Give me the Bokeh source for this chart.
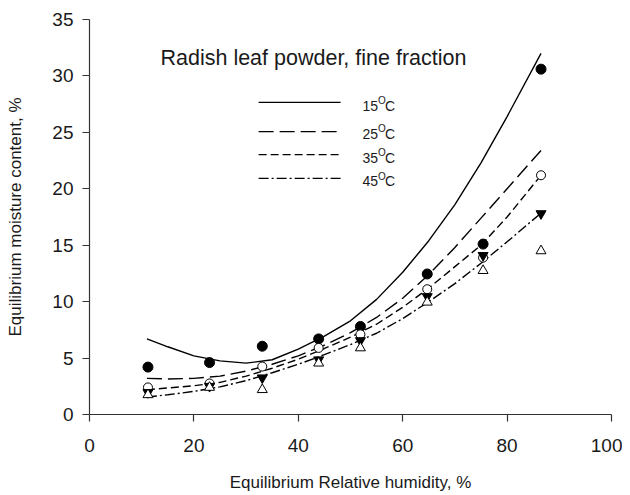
from bokeh.plotting import figure
from bokeh.embed import file_html
from bokeh.resources import INLINE
from bokeh.core.properties import value
from bokeh.models import FixedTicker

# ---- data ----
rh = [11.2, 23.0, 33.1, 43.9, 51.9, 64.7, 75.4, 86.5]
emc_15 = [4.2, 4.6, 6.05, 6.7, 7.8, 12.45, 15.1, 30.6]
emc_25 = [2.4, 2.75, 4.25, 5.9, 7.1, 11.1, 13.9, 21.2]
emc_35 = [1.95, 2.5, 3.25, 4.85, 6.55, 10.45, 14.1, 17.8]
emc_45 = [1.75, 2.4, 2.2, 4.55, 5.9, 9.95, 12.75, 14.5]

curve_rh = [11, 15, 20, 25, 30, 35, 40, 45, 50, 55, 60, 65, 70, 75, 80, 86.5]
fit_15 = [6.7, 6.0, 5.2, 4.75, 4.55, 4.85, 5.8, 6.95, 8.3, 10.2, 12.6, 15.4, 18.6, 22.3, 26.4, 32.0]
fit_25 = [3.2, 3.15, 3.2, 3.4, 3.85, 4.45, 5.2, 6.15, 7.25, 8.6, 10.3, 12.4, 14.8, 17.4, 20.0, 23.4]
fit_35 = [2.2, 2.35, 2.55, 2.85, 3.4, 4.1, 4.9, 5.85, 6.85, 8.0, 9.5, 11.2, 13.1, 15.0, 17.5, 21.2]
fit_45 = [1.55, 1.75, 2.05, 2.45, 3.0, 3.7, 4.45, 5.3, 6.2, 7.2, 8.5, 10.0, 11.6, 13.4, 15.3, 17.85]

legend_nums = ["15", "25", "35", "45"]
x_ticks = [0, 20, 40, 60, 80, 100]
y_ticks = [0, 5, 10, 15, 20, 25, 30, 35]

title_text = "Radish leaf powder, fine fraction"
x_title = "Equilibrium Relative humidity, %"
y_title = "Equilibrium moisture content, %"

FONT = "Liberation Sans"
INK = "#1a1a1a"

p = figure(width=622, height=495, output_backend="svg", toolbar_location=None,
           x_range=(0, 100), y_range=(0, 35),
           min_border_left=89, min_border_right=11, min_border_top=19, min_border_bottom=81)
p.outline_line_color = None
p.grid.visible = False
p.background_fill_color = "white"
p.border_fill_color = "white"

for ax in (p.xaxis, p.yaxis):
    ax.axis_line_color = "#333333"
    ax.axis_line_width = 1.2
    ax.major_tick_line_color = "#333333"
    ax.major_tick_line_width = 1.2
    ax.major_tick_out = 7
    ax.major_tick_in = 0
    ax.minor_tick_line_color = None
    ax.major_label_text_font = FONT
    ax.major_label_text_font_size = "19px"
    ax.major_label_text_color = INK
    ax.axis_label_text_font = FONT
    ax.axis_label_text_font_size = "17px"
    ax.axis_label_text_font_style = "normal"
    ax.axis_label_text_color = INK

p.xaxis.ticker = FixedTicker(ticks=x_ticks)
p.yaxis.ticker = FixedTicker(ticks=y_ticks)
p.xaxis.major_label_standoff = 17
p.yaxis.major_label_standoff = 9
p.xaxis.axis_label = x_title
p.yaxis.axis_label = y_title
p.xaxis.axis_label_standoff = 18
p.yaxis.axis_label_standoff = 24

# fitted curves
lw = 1.4
p.line(curve_rh, fit_15, line_color="black", line_width=lw)
p.line(curve_rh, fit_25, line_color="black", line_width=lw, line_dash="15 6")
p.line(curve_rh, fit_35, line_color="black", line_width=lw, line_dash="8 4")
p.line(curve_rh, fit_45, line_color="black", line_width=lw, line_dash="10 3 2 3")

# observed points
p.scatter(rh, emc_15, marker="circle", size=10, fill_color="black", line_color="black")
p.scatter(rh, emc_25, marker="circle", size=9, fill_color="white", line_color="black", line_width=1)
p.scatter(rh, emc_35, marker="inverted_triangle", size=10, fill_color="black", line_color="black")
p.scatter(rh, emc_45, marker="triangle", size=10, fill_color="white", line_color="black", line_width=1)

# title inside the plot
p.text(x=[13.6], y=[31.6], text=[title_text], text_font=value(FONT), text_font_size="21.5px",
       text_color=INK, text_baseline="middle", text_align="left")

# hand-made legend
leg_x0, leg_x1 = 32.4, 48.1
leg_line_y = [27.66, 25.07, 23.03, 20.93]
leg_text_y = [27.37, 24.89, 22.76, 20.68]
dashes = ["solid", "15 6", "8 4", "10 3 2 3"]
for yy, d in zip(leg_line_y, dashes):
    p.line([leg_x0, leg_x1], [yy, yy], line_color="black", line_width=1.3, line_dash=d)

lab_x = [52.3] * 4
p.text(x=lab_x, y=leg_text_y, text=legend_nums, text_font=value(FONT), text_font_size="14px",
       text_color=INK, text_baseline="middle", text_align="left")
p.text(x=lab_x, y=leg_text_y, text=["O"] * 4, text_font=value(FONT), text_font_size="10px",
       text_color=INK, text_baseline="middle", text_align="left", x_offset=15.5, y_offset=-5)
p.text(x=lab_x, y=leg_text_y, text=["C"] * 4, text_font=value(FONT), text_font_size="14px",
       text_color=INK, text_baseline="middle", text_align="left", x_offset=22.5)

open("out.html", "w").write(file_html(p, INLINE))
